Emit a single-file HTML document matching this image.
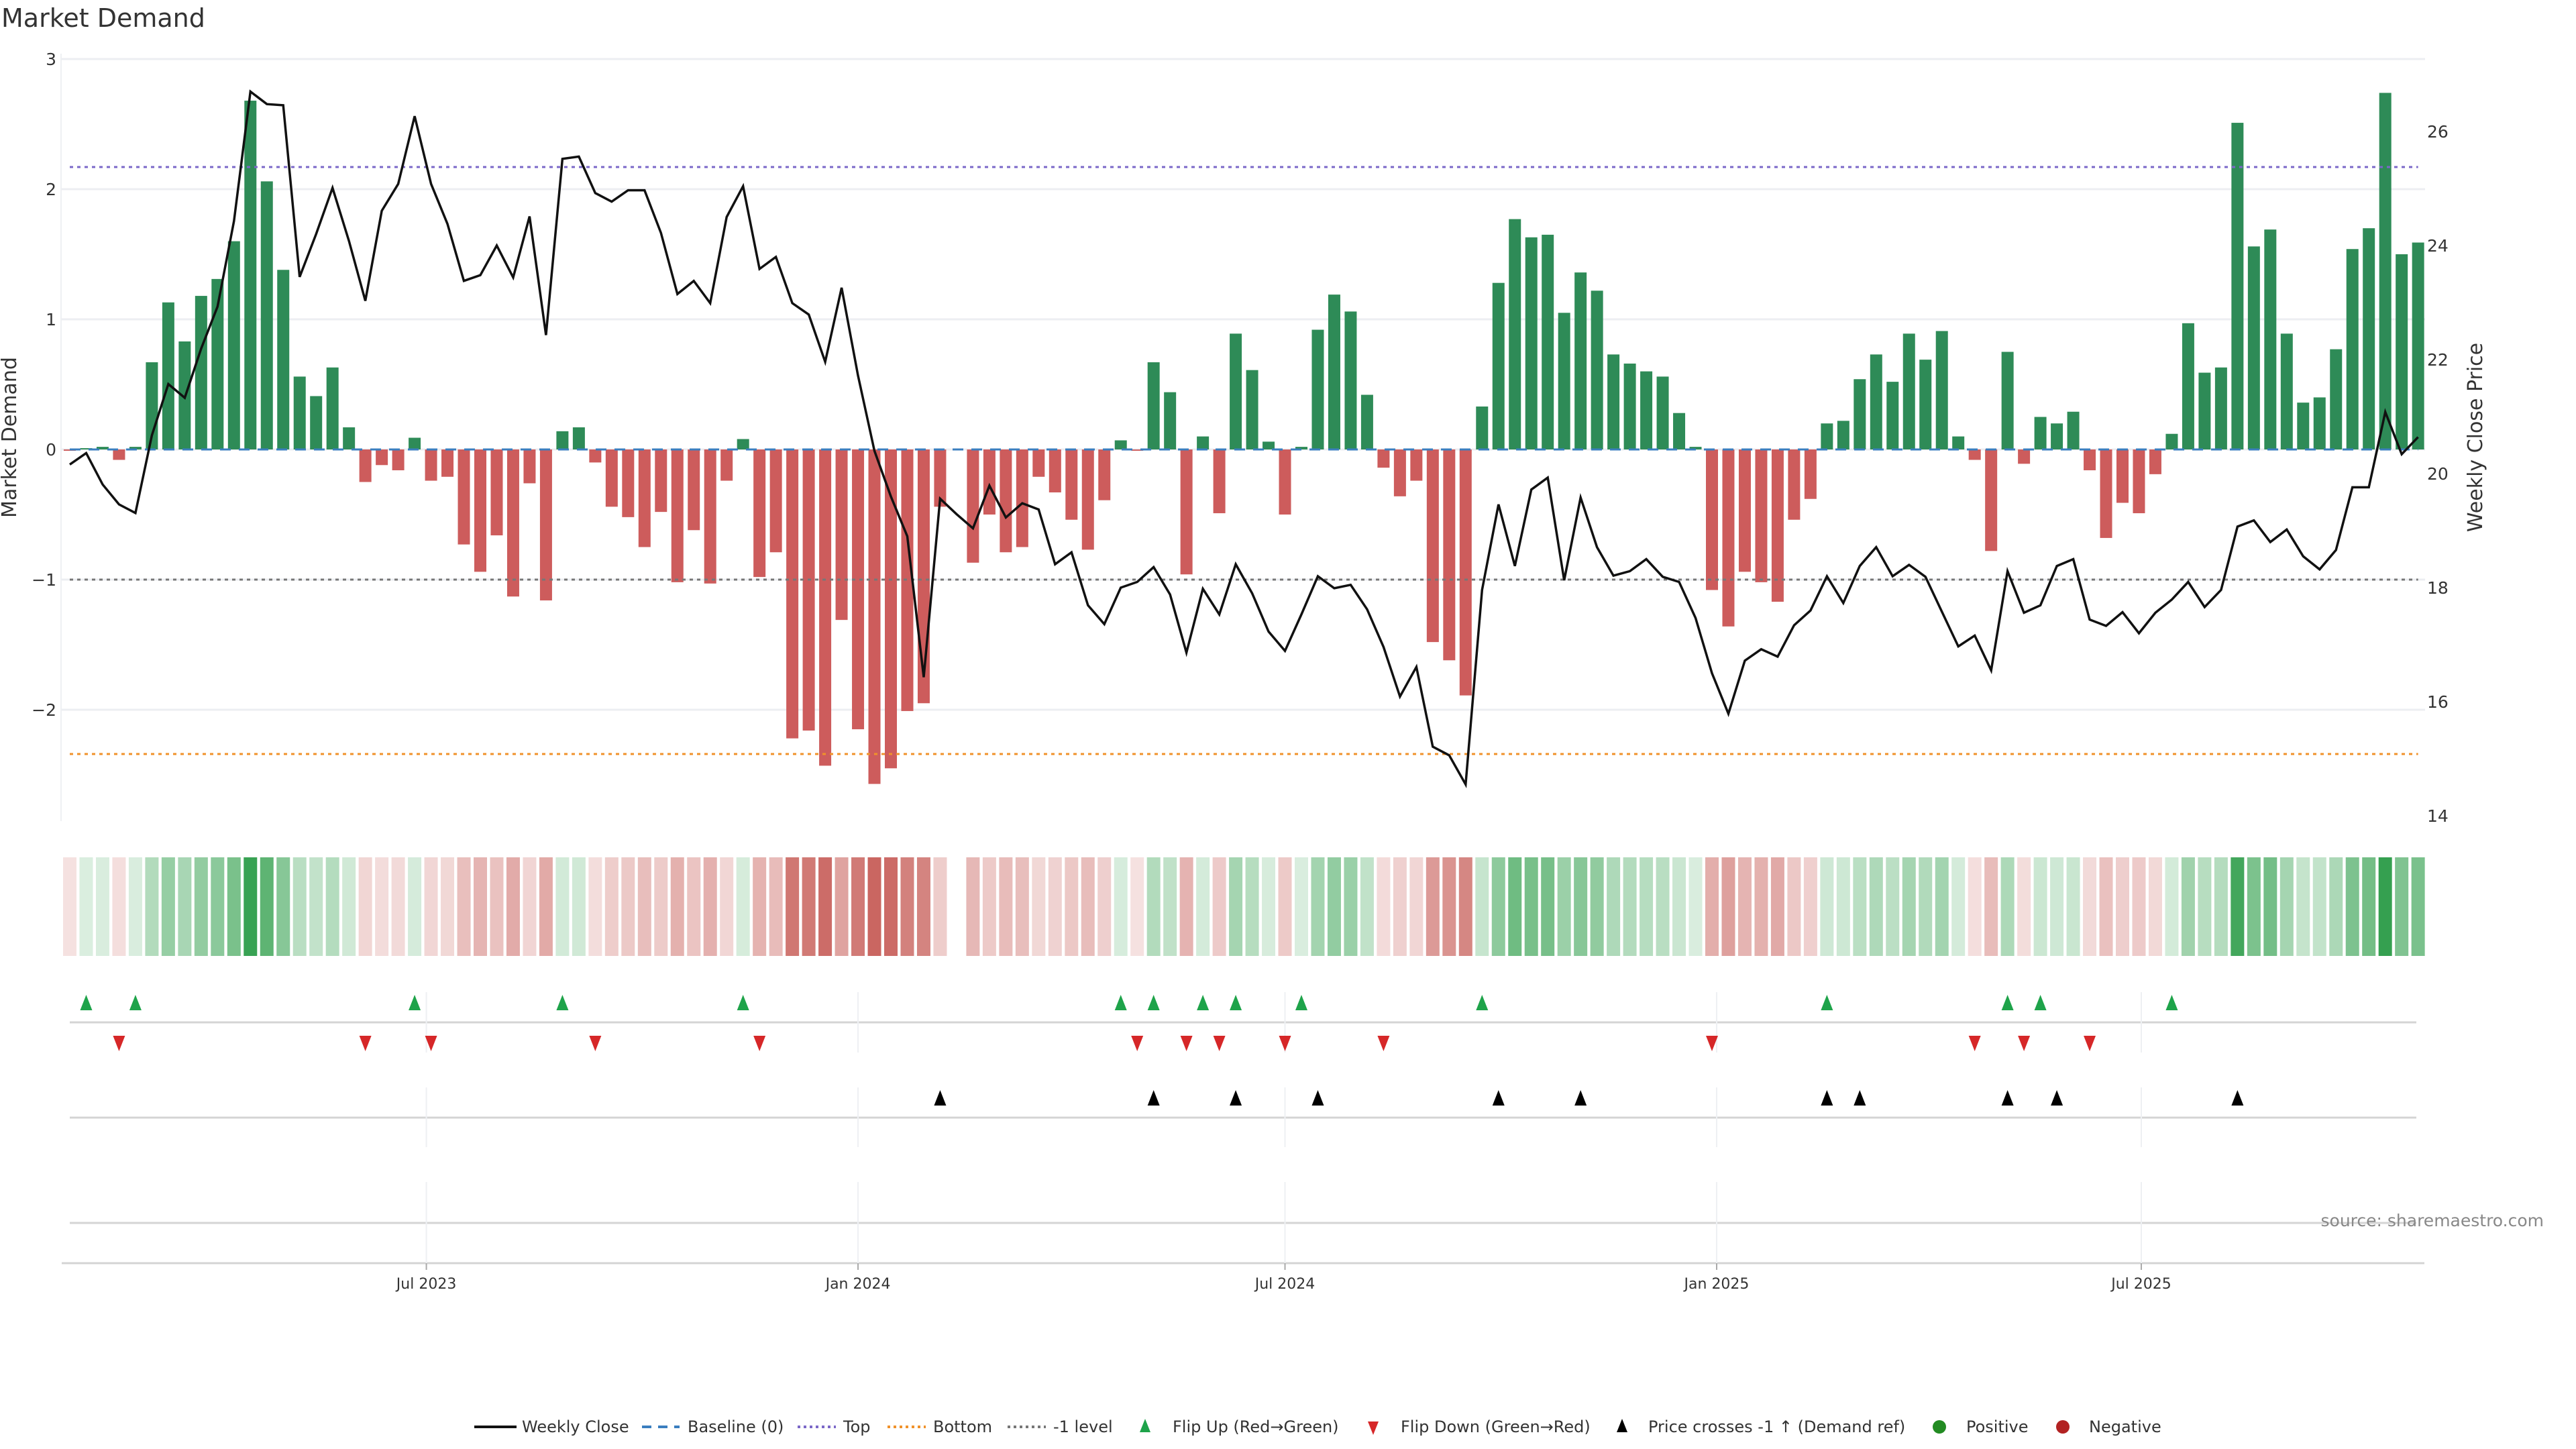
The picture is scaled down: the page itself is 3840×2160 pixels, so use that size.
<!DOCTYPE html>
<html><head><meta charset="utf-8"><title>Market Demand</title>
<style>
html,body{margin:0;padding:0;background:#fff;}
svg{display:block;font-family:"DejaVu Sans","Liberation Sans",sans-serif;}
</style></head>
<body>
<svg id="chart" width="3840" height="2160" viewBox="0 0 3840 2160" xmlns="http://www.w3.org/2000/svg">
<rect width="3840" height="2160" fill="#fff"/>
<text x="2" y="40" font-size="38" fill="#333">Market Demand</text>
<g id="grid"></g>
<g id="bars"></g>
<g id="refs"></g>
<g id="price"></g>
<g id="axes"></g>
<g id="heat"></g>
<g id="markers"></g>
<text transform="translate(24,652) rotate(-90)" text-anchor="middle" font-size="30" fill="#333">Market Demand</text>
<text transform="translate(3700,652) rotate(-90)" text-anchor="middle" font-size="30" fill="#333">Weekly Close Price</text>
<text x="3792" y="1828" text-anchor="end" font-size="25" fill="#888">source: sharemaestro.com</text>
<g font-size="24" fill="#333">
  <g><line x1="707" y1="2127" x2="770" y2="2127" stroke="#111" stroke-width="4"/><text x="778" y="2135">Weekly Close</text></g>
  <g><line x1="957" y1="2127" x2="1013" y2="2127" stroke="#3a7ebf" stroke-width="4" stroke-dasharray="14,10"/><text x="1025" y="2135">Baseline (0)</text></g>
  <g><line x1="1189" y1="2127" x2="1246" y2="2127" stroke="#7b68c8" stroke-width="4" stroke-dasharray="4,5"/><text x="1257" y="2135">Top</text></g>
  <g><line x1="1323" y1="2127" x2="1380" y2="2127" stroke="#f0922b" stroke-width="4" stroke-dasharray="4,5"/><text x="1391" y="2135">Bottom</text></g>
  <g><line x1="1502" y1="2127" x2="1559" y2="2127" stroke="#777" stroke-width="4" stroke-dasharray="4,5"/><text x="1570" y="2135">-1 level</text></g>
  <g><polygon points="1707,2115 1699,2135 1715,2135" fill="#1ea34a"/><text x="1748" y="2135">Flip Up (Red→Green)</text></g>
  <g><polygon points="2039,2119 2055,2119 2047,2139" fill="#d62728"/><text x="2088" y="2135">Flip Down (Green→Red)</text></g>
  <g><polygon points="2418,2115 2410,2135 2426,2135" fill="#000"/><text x="2457" y="2135">Price crosses -1 ↑ (Demand ref)</text></g>
  <g><circle cx="2891" cy="2127" r="10" fill="#228b22"/><text x="2931" y="2135">Positive</text></g>
  <g><circle cx="3075" cy="2127" r="10" fill="#b22222"/><text x="3114" y="2135">Negative</text></g>
</g>
</svg>
<script>
const demand = [-0.01,0.01,0.02,-0.08,0.02,0.67,1.13,0.83,1.18,1.31,
1.60,2.68,2.06,1.38,0.56,0.41,0.63,0.17,-0.25,-0.12,
-0.16,0.09,-0.24,-0.21,-0.73,-0.94,-0.66,-1.13,-0.26,-1.16,
0.14,0.17,-0.10,-0.44,-0.52,-0.75,-0.48,-1.02,-0.62,-1.03,
-0.24,0.08,-0.98,-0.79,-2.22,-2.16,-2.43,-1.31,-2.15,-2.57,
-2.45,-2.01,-1.95,-0.44,null,-0.87,-0.50,-0.79,-0.75,-0.21,
-0.33,-0.54,-0.77,-0.39,0.07,-0.01,0.67,0.44,-0.96,0.10,
-0.49,0.89,0.61,0.06,-0.50,0.02,0.92,1.19,1.06,0.42,
-0.14,-0.36,-0.24,-1.48,-1.62,-1.89,0.33,1.28,1.77,1.63,
1.65,1.05,1.36,1.22,0.73,0.66,0.60,0.56,0.28,0.02,
-1.08,-1.36,-0.94,-1.02,-1.17,-0.54,-0.38,0.20,0.22,0.54,
0.73,0.52,0.89,0.69,0.91,0.10,-0.08,-0.78,0.75,-0.11,
0.25,0.20,0.29,-0.16,-0.68,-0.41,-0.49,-0.19,0.12,0.97,
0.59,0.63,2.51,1.56,1.69,0.89,0.36,0.40,0.77,1.54,
1.70,2.74,1.50,1.59];
const price = [20.16,20.36,19.81,19.46,19.31,20.67,21.57,21.33,22.19,22.93,
24.43,26.70,26.48,26.46,23.45,24.20,25.01,24.08,23.03,24.61,
25.08,26.27,25.08,24.38,23.38,23.48,24.00,23.44,24.51,22.43,
25.52,25.56,24.92,24.77,24.97,24.97,24.22,23.15,23.38,22.99,
24.50,25.04,23.59,23.80,22.99,22.79,21.96,23.26,21.72,20.40,
19.60,18.90,16.43,19.56,19.29,19.04,19.79,19.23,19.48,19.37,
18.41,18.62,17.69,17.36,18.00,18.10,18.36,17.88,16.86,17.98,
17.53,18.41,17.90,17.23,16.89,17.53,18.20,17.99,18.05,17.62,
16.96,16.09,16.61,15.21,15.06,14.55,17.96,19.46,18.38,19.72,
19.93,18.13,19.58,18.71,18.21,18.29,18.50,18.19,18.10,17.47,
16.50,15.79,16.72,16.92,16.79,17.34,17.60,18.20,17.73,18.38,
18.71,18.20,18.40,18.19,17.58,16.97,17.16,16.55,18.29,17.56,
17.69,18.38,18.50,17.44,17.33,17.57,17.20,17.56,17.79,18.10,
17.66,17.96,19.07,19.18,18.80,19.02,18.55,18.32,18.66,19.76,
19.76,21.08,20.34,20.64];
const startDate = "2023-01-30";
const xTickDates = ["2023-07-01","2024-01-01","2024-07-01","2025-01-01","2025-07-01"];
const xTickLabels = ["Jul 2023","Jan 2024","Jul 2024","Jan 2025","Jul 2025"];
const leftTicks = [3,2,1,0,-1,-2];
const rightTicks = [26,24,22,20,18,16,14];
const topLevel = 2.17;
const bottomLevel = -2.34;
const minusLevel = -1;

const NS = "http://www.w3.org/2000/svg";
function mk(parent, tag, attrs){const e=document.createElementNS(NS,tag);for(const k in attrs)e.setAttribute(k,attrs[k]);document.getElementById(parent).appendChild(e);return e;}
const DAY = 86400000, t0 = Date.parse(startDate+"T00:00:00Z");
function xDate(ds){return 104 + (Date.parse(ds+"T00:00:00Z")-t0)/(7*DAY)*24.48;}
function xi(i){return 104 + i*24.48;}
function yL(v){return 670 - 194*v;}
function yR(p){return 706 - 85*(p-20);}
const X0 = 91, X1 = 3615;
const firstX = xi(0), lastX = xi(demand.length-1);

leftTicks.forEach(v=>{
  const g=mk("grid","line",{x1:X0,x2:X1,y1:yL(v),y2:yL(v),stroke:"#eceef2","stroke-width":3});
  
  
  const t=mk("axes","text",{x:84,y:yL(v)+9,"text-anchor":"end","font-size":25,fill:"#333"});
  t.textContent = v<0 ? "−"+Math.abs(v) : String(v);
  
  
});
rightTicks.forEach(p=>{
  const t=mk("axes","text",{x:3618,y:yR(p)+9,"font-size":25,fill:"#333"});
  t.textContent=String(p);
  
  
});
const ax=mk("axes","line",{x1:X0,x2:X0,y1:80,y2:1224,stroke:"#eef0f3","stroke-width":2});



demand.forEach((v,i)=>{
  if(v===null) return;
  const y0=yL(0), y1=yL(v);
  const r=mk("bars","rect",{x:xi(i)-9,y:Math.min(y0,y1),width:18,height:Math.max(Math.abs(y1-y0),0.5),fill:v>=0?"#2e8b57":"#cd5c5c"});
  
  
});

function ref(y,color,dash,name){
  const l=mk("refs","line",{x1:firstX,x2:lastX,y1:y,y2:y,stroke:color,"stroke-width":3,"stroke-dasharray":dash});
  
  
}
ref(yL(topLevel),"#7b68c8","5,6","top-level-line");
ref(yL(bottomLevel),"#f0922b","5,6","bottom-level-line");
ref(yL(minusLevel),"#777","5,6","minus-one-level-line");
ref(yL(0),"#3a7ebf","16,12","baseline-zero-line");

const pts=price.map((p,i)=>xi(i).toFixed(1)+","+yR(p).toFixed(1)).join(" ");
const pl=mk("price","polyline",{points:pts,fill:"none",stroke:"#111","stroke-width":3.5,"stroke-linejoin":"miter"});



function mix(c,t){return "rgb("+c.map(v=>Math.round(255+(v-255)*t)).join(",")+")";}
demand.forEach((v,i)=>{
  if(v===null) return;
  const t=0.18+0.82*Math.min(Math.abs(v)/2.75,1);
  const col=v>=0?mix([52,160,79],t):mix([199,93,88],t);
  const r=mk("heat","rect",{x:xi(i)-10,y:1278,width:20,height:147,fill:col});
  
  
});

[1524,1666,1823].forEach(y=>{
  const l=mk("markers","line",{x1:104,x2:3602,y1:y,y2:y,stroke:"#d4d4d4","stroke-width":3});
  
  
});
const bx=mk("markers","line",{x1:92,x2:3614,y1:1883,y2:1883,stroke:"#d4d4d4","stroke-width":3});


xTickDates.forEach((d,k)=>{
  const x=xDate(d);
  [[1479,1569],[1621,1710],[1762,1883]].forEach(s=>{
    const g=mk("markers","line",{x1:x,x2:x,y1:s[0],y2:s[1],stroke:"#eef0f3","stroke-width":2});
    
    
  });
  const tk=mk("markers","line",{x1:x,x2:x,y1:1883,y2:1893,stroke:"#aaa","stroke-width":2});
  
  
  const t=mk("markers","text",{x:x,y:1921,"text-anchor":"middle","font-size":22,fill:"#333"});
  t.textContent=xTickLabels[k];
  
  
});

let prev=null;
demand.forEach((v,i)=>{
  if(v===null) return;
  const s=v>=0?1:-1;
  if(prev!==null && s!==prev){
    const x=xi(i);
    if(s>0){
      const m=mk("markers","polygon",{points:`${x},${1483} ${x-9},${1506} ${x+9},${1506}`,fill:"#1ea34a"});
      
      
    }else{
      const m=mk("markers","polygon",{points:`${x-9},${1544} ${x+9},${1544} ${x},${1567}`,fill:"#d62728"});
      
      
    }
  }
  prev=s;
});
const refPrice = 20 + (706 - yL(minusLevel))/85;
for(let i=1;i<price.length;i++){
  if(price[i-1]<refPrice && price[i]>=refPrice){
    const x=xi(i);
    const m=mk("markers","polygon",{points:`${x},${1625} ${x-9},${1648} ${x+9},${1648}`,fill:"#000"});
    
    
  }
}
</script>
</body></html>
